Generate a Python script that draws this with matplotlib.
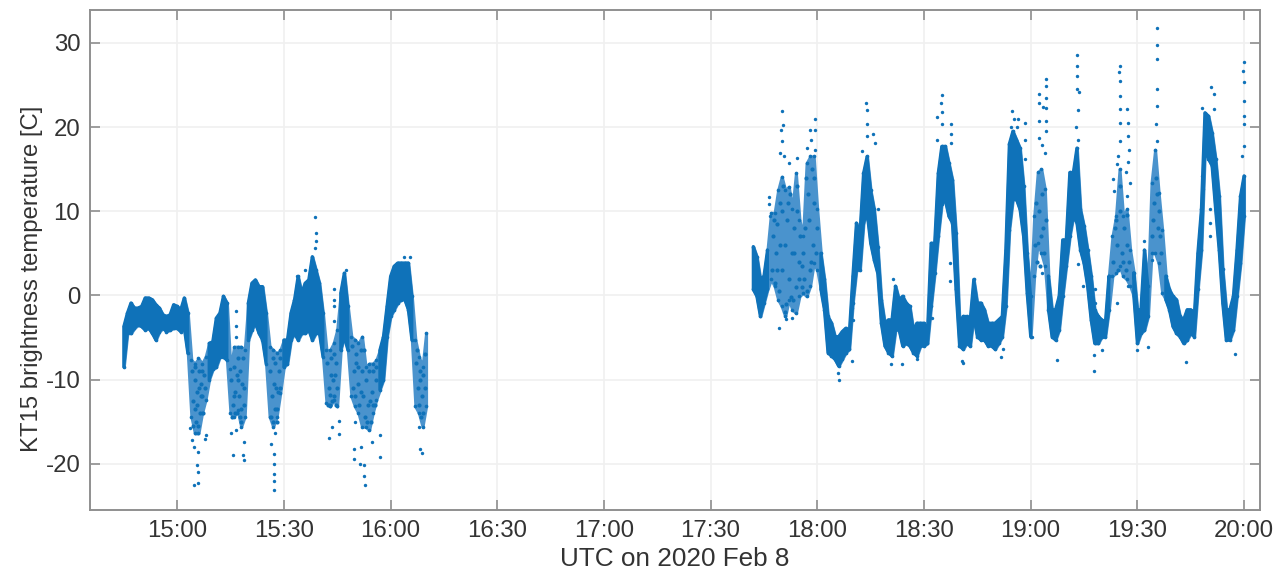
import numpy as np
import matplotlib
matplotlib.use('Agg')
import matplotlib.pyplot as plt

plt.rcParams['font.family'] = ['Liberation Sans', 'DejaVu Sans']
plt.rcParams['axes.unicode_minus'] = False

# all times are minutes after 14:00
tick_min = [60, 90, 120, 150, 180, 210, 240, 270, 300, 330, 360]
tick_lab = ['15:00', '15:30', '16:00', '16:30', '17:00', '17:30', '18:00', '18:30', '19:00', '19:30', '20:00']
y_ticks = [-20, -10, 0, 10, 20, 30]

# first flight leg, one minute columns: where the dots are dense
t_a = [45, 46, 47, 48, 49, 50, 51, 52, 53, 54, 55, 56, 57, 58, 59, 60, 61, 62, 63, 64, 65, 66,
       67, 68, 69, 70, 71, 72, 73, 74, 75, 76, 77, 78, 79, 80, 81, 82, 83, 84, 85, 86, 87, 88,
       89, 90, 91, 92, 93, 94, 95, 96, 97, 98, 99, 100, 101, 102, 103, 104, 105, 106, 107, 108,
       109, 110, 111, 112, 113, 114, 115, 116, 117, 118, 119, 120, 121, 122, 123, 124, 125, 126,
       127, 128, 129, 130]
hi_a = [-3.7, -2.1, -0.9, -1.5, -1.5, -1.3, -0.3, -0.3, -0.5, -1.1, -1.5, -2.3, -2.5, -2.3, -1.1, -1.3,
        -1.7, -0.3, -2.1, -7.7, -8.1, -7.5, -8.1, -7.3, -5.7, -5.5, -2.7, -2.1, -0.1, -0.9, -8.8, -6.1,
        -6.1, -6.1, -6.5, -0.9, 1.45, 1.85, 1.05, 1.05, -2.1, -6.1, -6.5, -6.9, -6.5, -5.3, -5.3, -2.1,
        -0.5, 2.25, 0.3, 1.45, 1.85, 4.6, 3.05, 1.45, -2.1, -6.5, -6.5, -5.7, -4.1, 0.3, 2.65, -1.3,
        -4.9, -5.3, -5.7, -4.9, -8.5, -8.1, -8.1, -7.7, -6.5, -4.9, -1.3, 2.25, 3.45, 3.85, 3.85, 3.85,
        3.85, -0.1, -5.3, -7.3, -8.5, -4.5]
lo_a = [-8.5, -4.5, -4.5, -3.9, -3.5, -3.7, -4.1, -3.9, -4.5, -5.3, -4.3, -3.9, -4.3, -4.1, -3.9, -3.9,
        -4.3, -3.9, -6.9, -14.4, -16.4, -16.4, -14, -12.4, -10, -8.8, -8.5, -7.3, -7.3, -7.7, -14, -14.4,
        -13.6, -15.6, -14.4, -5.3, -4.1, -3.3, -4.5, -5.3, -8.1, -14.4, -15.6, -14.4, -11.6, -8.5, -8.1, -5.3,
        -4.5, -5.3, -4.5, -4.5, -4.1, -5.3, -4.5, -4.5, -7.3, -12.8, -13.2, -12.4, -13.2, -6.5, -4.9, -6.5,
        -12, -13.2, -14, -15.6, -15.6, -16, -14, -12.4, -11.2, -10, -4.9, -2.5, -1.7, -0.9, -0.5, -0.5,
        -1.7, -5.3, -13.2, -14, -15.6, -13.2]

# second leg
t_b = [222, 223, 224, 225, 226, 227, 228, 229, 230, 231, 232, 233, 234, 235, 236, 237, 238, 239, 240, 241,
       242, 243, 244, 245, 246, 247, 248, 249, 250, 251, 252, 253, 254, 255, 256, 257, 258, 259, 260, 261,
       262, 263, 264, 265, 266, 267, 268, 269, 270, 271, 272, 273, 274, 275, 276, 277, 278, 279, 280, 281,
       282, 283, 284, 285, 286, 287, 288, 289, 290, 291, 292, 293, 294, 295, 296, 297, 298, 299, 300, 301,
       302, 303, 304, 305, 306, 307, 308, 309, 310, 311, 312, 313, 314, 315, 316, 317, 318, 319, 320, 321,
       322, 323, 324, 325, 326, 327, 328, 329, 330, 331, 332, 333, 334, 335, 336, 337, 338, 339, 340, 341,
       342, 343, 344, 345, 346, 347, 348, 349, 350, 351, 352, 353, 354, 355, 356, 357, 358, 359, 360]
hi_b = [5.8, 4.6, 1.9, 2.3, 5.4, 9.8, 9.8, 12.5, 14.1, 12.5, 12.9, 10.2, 14.5, 9, 7, 15.7, 16.5, 16.5, 10.2, 5,
        1.9, -2.5, -3.3, -4.9, -4.9, -4.3, -3.9, -4.5, 2.3, 8.6, 7.4, 14.5, 16.5, 12.5, 10.2, 5.8, -0.5, -3.3, -2.9, -2.9,
        1.1, -0.5, -0.1, -0.9, -1.3, -4.1, -3.3, -3.3, -3.3, -4.1, 6.2, 6.2, 14.5, 17.7, 17.7, 15.7, 13.7, 7.4, -3.3, -2.5,
        -2.5, -2.9, 1.9, -0.9, -0.9, -1.7, -3.3, -3.3, -3.3, -2.9, -2.5, 5.4, 18, 19.5, 18.5, 17.5, 13, 5, -0.1, 9.4,
        14.6, 15, 12.6, 2.3, -1.7, -1.7, -0.1, 6.6, 6.6, 14.6, 14.6, 17.5, 10.2, 8.2, 5.4, 2.3, -1.7, -2.5, -2.9, -3.3,
        2.3, 7, 9.4, 15, 9.4, 10.2, 5.4, 2.7, -1.7, -1.7, 5.4, 1.1, 13.4, 17.3, 12.2, 7.8, 2.3, 0.7, -0.1, -0.5,
        -2.5, -2.9, -1.7, -1.7, -2.5, 5, 10.2, 21.7, 21.3, 19.3, 16.2, 11.8, 3.1, -1.7, -1.7, -0.1, 5.4, 11.8, 14.2]
lo_b = [0.7, -0.1, -2.5, -0.9, 0.7, 1.9, 1.1, -0.5, -1.3, -2.5, -0.5, -1.7, -2.1, -0.1, 0.3, -0.1, 1.1, 3.8, 3, 0.7,
        -1.7, -6.8, -7.2, -7.6, -8.4, -7.6, -6.8, -6.4, -0.9, 3, 3, 8.6, 9.8, 6.2, 4.2, 2.6, -3.3, -6, -6.8, -7.2,
        -4.1, -4.1, -6, -5.7, -6, -6.8, -7.2, -6, -6, -5.7, -1.3, 2.6, 7, 10.9, 11.3, 9.4, 8.6, 0.7, -6, -6.4,
        -5.7, -6, -2.5, -4.9, -5.3, -5.3, -6, -6, -6.4, -5.7, -4.9, -1.3, 7.8, 11.4, 11.4, 10.2, 7, 0.3, -4.9, 2.3,
        6.2, 5, 3.5, -1.7, -4.9, -5.3, -4.1, -0.1, 3.5, 7, 9.4, 8.6, 5.4, 3.8, 1.1, -2.9, -5.7, -5.7, -4.9, -4.9,
        -1.7, 2.3, 2.7, 3.5, 2.3, 1.9, 1.1, -0.1, -5.7, -4.5, -4.1, -2.5, 5, 5, 3.8, 0.3, -0.5, -1.7, -3.7, -4.5,
        -4.9, -5.7, -5.3, -4.5, -4.9, 0.7, 5.4, 17.3, 16.2, 15.4, 10.2, 5.4, -0.9, -5.3, -5.3, -4.1, -0.1, 3.8, 9.4]

# stretches where the dots thin out and white shows through (first, last minute)
sparse_spans = [(64, 68), (75, 79), (86, 89), (102, 105), (109, 116), (127, 130),
                (227, 240), (301, 304), (323, 328), (334, 337)]

# dots read inside those thin stretches
speck_t = [64.2, 64.6, 65, 65.3, 65.7, 66.1, 66.4, 66.8, 67.1, 67.5, 67.8, 64.4, 65.1, 65.9, 66.6, 67.3, 64.9, 65.5, 66.2, 67,
           75.2, 75.6, 76, 76.3, 76.7, 77, 77.4, 77.8, 78.1, 78.5, 78.9, 75.4, 76.2, 77.2, 78, 78.7, 76.8, 75.9, 77.6, 78.3,
           86.2, 86.6, 87, 87.4, 87.8, 88.2, 88.6, 89, 86.4, 87.2, 88, 88.8, 86.9, 87.6, 88.4,
           102.2, 102.6, 103, 103.4, 103.8, 104.2, 104.6, 105, 102.4, 103.2, 104, 104.8, 102.9, 103.6, 104.4,
           109.2, 109.6, 110, 110.4, 110.8, 111.2, 111.6, 112, 112.4, 112.8, 113.2, 113.6, 114, 114.4, 114.8, 115.2, 115.6, 116,
           109.4, 110.2, 111, 111.8, 112.6, 113.4, 114.2, 115, 115.8,
           127.2, 127.6, 128, 128.4, 128.8, 129.2, 129.6, 127.4, 128.2, 129, 129.8, 128.6,
           227.2, 227.6, 228, 228.4, 228.8, 229.2, 229.6, 230, 230.4, 230.8, 231.2, 231.6, 232, 232.4, 232.8, 233.2,
           233.6, 234, 234.4, 234.8, 235.2, 235.6, 236, 236.4, 236.8, 237.2, 237.6, 238, 238.4, 238.8, 239.2, 239.6,
           227.9, 228.7, 229.4, 230.2, 231, 231.9, 232.6, 233.4, 234.2, 235, 235.8, 236.6, 237.4, 238.2, 239, 239.8,
           301.2, 301.8, 302.3, 302.8, 303.3, 303.8, 304.2, 301.5, 302.6, 303.6,
           323.2, 323.7, 324.2, 324.7, 325.2, 325.7, 326.2, 326.7, 327.2, 327.7, 324, 325, 326, 327,
           334.2, 334.7, 335.2, 335.7, 336.2, 336.7, 334.5, 335.5, 336.5]
speck_y = [-9, -12.5, -10, -15, -11.5, -9, -14, -10.5, -12, -9.5, -11, -15.5, -13.5, -15.5, -12, -14, -8.5, -13, -11, -9,
           -10, -13, -8.5, -11.5, -14, -7.5, -12, -9, -13.5, -7.5, -11, -14.5, -14, -10, -15, -13, -9.5, -12, -14.5, -10.5,
           -9, -12, -15, -8, -11, -13.5, -9, -11, -14.5, -10.5, -15, -7.5, -7.5, -13.5, -11.5,
           -8, -11, -13, -7.5, -10, -12, -8, -11, -13, -9.5, -7, -13, -11.8, -12.5, -9.5,
           -6, -9, -12, -7, -10.5, -13, -6.5, -9, -12, -14.5, -10, -13, -9, -15, -11.5, -9, -13, -10,
           -11, -8, -8.5, -11.5, -6.5, -15, -12.5, -13, -8.5,
           -8, -11, -13, -9, -12, -14, -7, -6.5, -10, -9.5, -11, -14.5,
           3, 7, 1.5, 5, 8.5, 0.5, 11, 3, 13, 6, -1, 9, 2, 12, 5, -0.5,
           8, 1, 13, 4, 7, 1, 5, 2, 14, 0.5, 9, 3, 15, 6, 11, 5,
           9, 3, 6, 10, -2, 11, -0.2, 5, 10, 2, 3.5, 8, 12, 4, 14, 8,
           6, 4, 10, 7, 12, 5, 9, 11, 3.5, 8,
           4, 8, 6, 3, 10, 5, 8, 3, 6, 4, 9, 13, 4, 9.5,
           7, 11, 14, 8, 10, 5, 9, 12, 7]

# single dots standing clear of the dense part
dot_t = [64.8, 66, 65.8, 65.7, 65.9, 64.8, 64.1, 67.9, 68.1, 63.7, 75.6, 75.2, 76.6, 76.6, 76.6, 76.6, 78.7, 78.5, 78.9,
         87.2, 87.2, 87.1, 87.2, 87.3, 86.3, 87.5, 98.8, 99.1, 99.1, 98.8, 96, 93.7, 102.6, 103.5, 105.4, 105.4, 104, 104,
         104.1, 104.1, 107.5, 109.8, 109.8, 111.5, 112.6, 112.6, 112.7, 111.6, 114.7, 117.1, 117.1, 110, 125.5, 123.9,
         128.3, 128.8, 127.9,
         230.2, 229.7, 230.5, 230.2, 229.6, 230.7, 232.1, 234.2, 229.2, 231.3, 232.9, 226.3, 226.4, 226.6, 239.3, 239.3,
         237.9, 238.2, 237, 239.3, 253.8, 253.9, 253.9, 254, 255.7, 256.2, 252.5, 249.9, 250, 246.2, 245.8, 249.9,
         275, 274.9, 275, 273.8, 275.2, 277.5, 277.5, 273.8, 277.5, 260.8, 263.7, 268.1, 280.8, 281.1, 261.3, 257,
         271.4, 271.4, 272.4, 277.3, 277.3,
         335.5, 335.5, 335.5, 335.5, 335.4, 335.3, 335.5, 313, 313.1, 313, 313.1, 313.7, 304.3, 304.3, 302.4, 304.3, 302.4,
         303.4, 304.3, 304.3, 304.3, 302.4, 302.4, 303.1, 304, 325, 324.9, 325.2, 325, 325.2, 325, 325.2, 324.7, 324.4,
         323.3, 323.5, 327, 327.5, 327.5, 327.8, 327.5, 326.9, 328, 327, 317.8, 317.8, 320, 318.1, 318.1, 307.3, 291.6,
         292.3, 343.8, 332.9, 329.9, 357.4, 350.8, 351.5, 348.2, 351.7, 359.9, 359.8, 359.9, 359.9, 360, 360, 360, 359.4,
         294.8, 298.4, 298.4, 296.5, 298.4, 331.9, 350.5, 350.5, 348.2, 348.6, 350.3, 300.3, 303.1, 314.6, 324.2, 327.5,
         313.2, 334.1, 313.2, 312.8, 313.4, 294.5, 295.4, 296.2]
dot_y = [-22.5, -22.3, -21, -20.2, -18.6, -18, -17.2, -17.1, -16.6, -15.8, -19, -16.3, -16, -1.8, -3.7, -4.9, -19.6, -19, -17.4,
         -23.1, -22, -21.2, -20, -18.8, -17.6, -16.4, 9.3, 7.4, 6.4, 5.6, 3, 2.3, -16.9, -15.6, -14.9, -16.5, 0.8, -0.5,
         -1.3, -3.1, 3, -18.2, -19.4, -20, -20.2, -21.5, -22.5, -18, -17.4, -16.6, -19.2, -15, 4.5, 4.6,
         -18.2, -18.7, -15.6,
         21.9, 19.6, 20.2, 18.3, 16.9, 16.5, 15.7, 16.3, -3.9, -2.8, -2.7, 11.7, 10.9, 9.4, 20.9, 19.6,
         19.7, 18.5, 17.5, 17.3, 22.8, 22, 20.4, 18.9, 19.2, 18.1, 17.1, -1.5, -2.9, -10, -9.2, -7.8,
         23.8, 22.8, 21.8, 21.2, 20.4, 20.4, 19.2, 18.5, 18.1, -8.2, -8.1, -7.6, -7.8, -8, 1.9, 10.3,
         -0.9, -2.9, -2.7, 1.7, 3.8,
         31.8, 29.7, 28.1, 24.5, 22.5, 20.3, 18.3, 28.5, 27.3, 26.1, 24.5, 24.1, 25.7, 24.9, 23.9, 23.5, 22.9,
         22.4, 22.3, 20.7, 19.5, 20.7, 18.7, 17.9, 16.9, 27.3, 26.5, 25.5, 23.7, 22.1, 20.5, 18.3, 16.5, 15.6,
         13.8, 12.4, 22.1, 20.5, 18.9, 17.3, 15.8, 14.6, 13.4, 11.8, -9, -7.1, -6.5, 0.7, -0.9, -7.7, -7.3,
         -6.4, -7.9, -6.1, -6.5, -7, 24.7, 23.9, 22.3, 22.1, 27.7, 26.7, 25.3, 23.1, 21.3, 20.3, 17.7, 16.5,
         21.9, 20.5, 18.5, 20.9, 16.2, 6.4, 7, 8.6, 14.2, 12.6, 10.2, -4.9, 2.7, 1.1, -0.9, 1.1,
         3.7, 4.2, 22, 20, 18.5, 20, 21, 20]

blue = '#0f72b9'
pale = '#4a93cd'
grey = '#8f8f8f'
text_col = '#333333'

fig = plt.figure(figsize=(12.78, 5.77), dpi=100)
ax = fig.add_axes([90 / 1278, 67 / 577, 1170 / 1278, 500 / 577])

for t, lo, hi in [(t_a, lo_a, hi_a), (t_b, lo_b, hi_b)]:
    t = np.array(t)
    thin = np.zeros(len(t), dtype=bool)
    for a, b in sparse_spans:
        thin |= (t >= a) & (t <= b)
    # pale underlay keeps the band joined up, solid on top where dots merge
    ax.fill_between(t, lo, hi, color=pale, ec=pale, lw=2.2, zorder=3)
    ax.fill_between(t, lo, hi, where=~thin, color=blue, ec=blue, lw=2.2, zorder=3)
    # rough edges of the band
    ax.scatter(t, hi, s=7, color=blue, linewidths=0, zorder=3)
    ax.scatter(t, lo, s=7, color=blue, linewidths=0, zorder=3)

ax.scatter(speck_t, speck_y, s=9, color=blue, linewidths=0, zorder=3)
ax.scatter(dot_t, dot_y, s=6, color=blue, linewidths=0, zorder=3)

ax.set_xlim(35.5, 364.5)
ax.set_ylim(-25.5, 33.9)
ax.set_xticks(tick_min)
ax.set_xticklabels(tick_lab)
ax.set_yticks(y_ticks)
ax.grid(True, color='#f0f0f0', lw=1.2)
ax.set_axisbelow(True)
ax.tick_params(direction='in', length=7.5, width=1.2, color=grey, top=True, right=True,
               labelsize=17.3, labelcolor=text_col, pad=7)
for s in ax.spines.values():
    s.set_color(grey)
    s.set_linewidth(1.4)

ax.set_xlabel('UTC on 2020 Feb 8', fontsize=18.8, color=text_col, labelpad=4)
ax.set_ylabel('KT15 brightness temperature [C]', fontsize=17.2, color=text_col, labelpad=2, y=0.462)

fig.savefig('out.png', dpi=100)
